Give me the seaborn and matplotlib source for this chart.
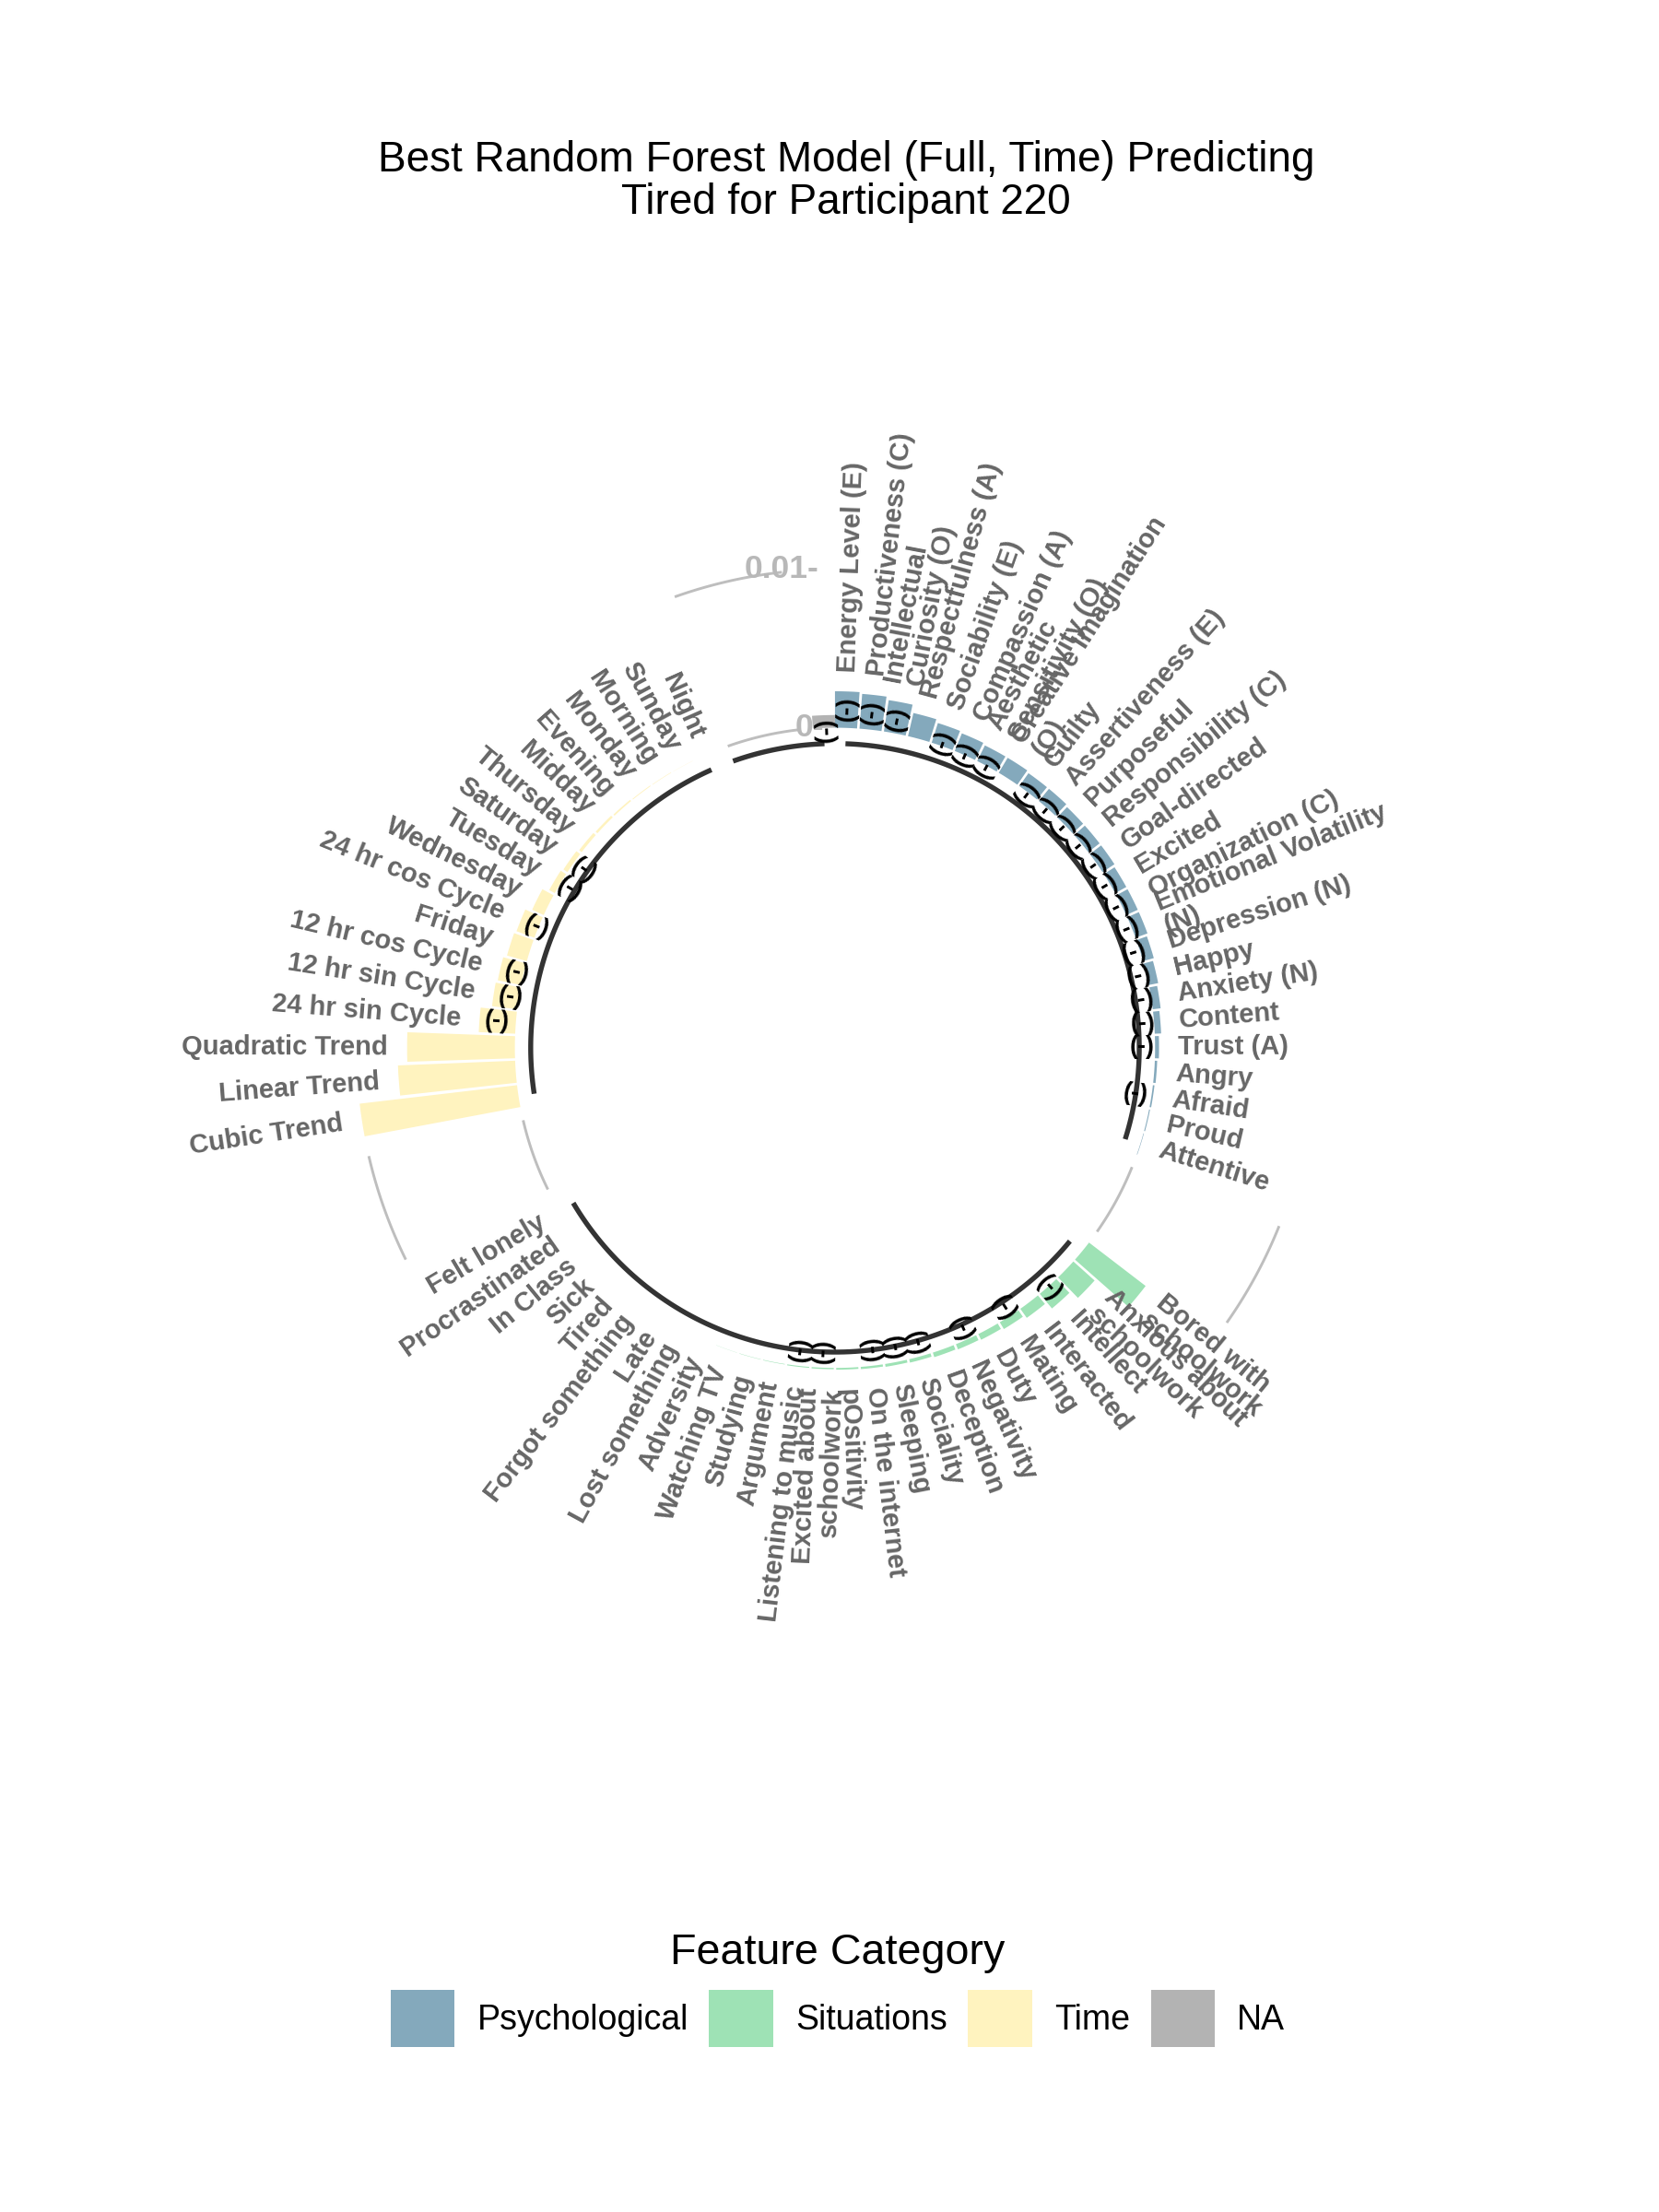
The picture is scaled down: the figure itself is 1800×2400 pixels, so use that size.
import textwrap
import numpy as np
import pandas as pd
import matplotlib
matplotlib.use("Agg")
import matplotlib.pyplot as plt
from matplotlib.patches import Patch
import seaborn as sns

# feature importances, by category (sorted as drawn)
psych_features = ["Energy Level (E)", "Productiveness (C)", "Intellectual Curiosity (O)",
                  "Respectfulness (A)", "Sociability (E)", "Compassion (A)",
                  "Aesthetic Sensitivity (O)", "Creative Imagination (O)", "Guilty",
                  "Assertiveness (E)", "Purposeful", "Responsibility (C)", "Goal-directed",
                  "Excited", "Organization (C)", "Emotional Volatility (N)", "Depression (N)",
                  "Happy", "Anxiety (N)", "Content", "Trust (A)", "Angry", "Afraid",
                  "Proud", "Attentive"]
psych_values = [0.0023, 0.0022, 0.0020, 0.0015, 0.0013, 0.0012, 0.0011, 0.0011, 0.0010,
                0.0010, 0.0009, 0.0009, 0.0009, 0.0008, 0.0008, 0.0008, 0.0007, 0.0006,
                0.0005, 0.0004, 0.00025, 0.00015, 0.0001, 0.00006, 0.00003]
psych_negative = [1, 1, 1, 0, 1, 1, 1, 0, 1, 1, 1, 1, 1, 1, 1, 1, 1, 1, 1, 1, 1, 0, 1, 0, 0]

situation_features = ["Bored with schoolwork", "Anxious about schoolwork", "Intellect",
                      "Interacted", "Mating", "Duty", "Negativity", "Deception", "Sociality",
                      "Sleeping", "On the internet", "pOsitivity", "Excited about schoolwork",
                      "Listening to music", "Argument", "Studying", "Watching TV", "Adversity",
                      "Lost something", "Late", "Forgot something", "Tired", "Sick",
                      "In Class", "Procrastinated", "Felt lonely"]
situation_values = [0.0045, 0.0018, 0.0012, 0.0007, 0.0005, 0.0004, 0.00035, 0.0003,
                    0.00022, 0.00018, 0.00014, 0.00011, 0.00008, 0.00006, 0.00003, 0.00002,
                    0.00001, 0, 0, 0, 0, 0, 0, 0, 0, 0]
situation_negative = [0, 0, 1, 0, 1, 0, 1, 0, 1, 1, 1, 0, 1, 1, 0, 0, 0, 0, 0, 0, 0, 0, 0, 0, 0, 0]

time_features = ["Cubic Trend", "Linear Trend", "Quadratic Trend", "24 hr sin Cycle",
                 "12 hr sin Cycle", "12 hr cos Cycle", "Friday", "24 hr cos Cycle",
                 "Wednesday", "Tuesday", "Saturday", "Thursday", "Midday", "Evening",
                 "Monday", "Morning", "Sunday", "Night"]
time_values = [0.0100, 0.0074, 0.0068, 0.0023, 0.0016, 0.0015, 0.0013, 0.0012, 0.0008,
               0.0004, 0.0003, 0.0002, 0.00015, 0.0001, 0.00005, 0.00003, 0.00001, 0]
time_negative = [0, 0, 0, 1, 1, 1, 0, 1, 0, 1, 1, 0, 0, 0, 0, 0, 0, 0]

na_features = [""]
na_values = [0.0008]
na_negative = [1]

categories = ["Psychological", "Situations", "Time", "NA"]
colors = sns.color_palette(["#84a9bc", "#9ee2b5", "#fff3bf", "#b3b3b3"])
palette = dict(zip(categories, colors))

# assemble data with empty bars between groups (circular barplot layout)
empty_bar = 4
frames = []
groups = [("Psychological", psych_features, psych_values, psych_negative),
          ("Situations", situation_features, situation_values, situation_negative),
          ("Time", time_features, time_values, time_negative),
          ("NA", na_features, na_values, na_negative)]
for name, feats, vals, neg in groups:
    frames.append(pd.DataFrame({"feature": feats, "value": vals, "negative": neg, "group": name}))
    if name != "NA":
        frames.append(pd.DataFrame({"feature": [None] * empty_bar, "value": [np.nan] * empty_bar,
                                    "negative": [0] * empty_bar, "group": name}))
data = pd.concat(frames, ignore_index=True)
data["id"] = np.arange(1, len(data) + 1)
n_bar = len(data)


def to_theta(x):
    return 2 * np.pi * (np.asarray(x, dtype=float) - 0.55) / (n_bar - 0.1)


base = data.groupby("group", sort=False)["id"].agg(["min", "max"])
base["end"] = base["max"] - empty_bar
grid = pd.DataFrame({"start": base["end"].shift(1) + 1, "end": base["min"] - 1}).iloc[1:]

sns.set_theme(style="white")
plt.rcParams["font.family"] = ["Liberation Sans", "DejaVu Sans"]

fig = plt.figure(figsize=(6, 8), dpi=300)
ax = fig.add_axes([0.1193, 0.2383, 0.768, 0.576], projection="polar")
ax.set_theta_zero_location("N")
ax.set_theta_direction(-1)
ax.set_ylim(-0.0202, 0.02)
ax.set_axis_off()

bars = data.dropna(subset=["value"])
ax.bar(to_theta(bars["id"]), bars["value"], width=0.9 * 2 * np.pi / (n_bar - 0.1),
       bottom=0, color=bars["group"].map(palette).tolist(), linewidth=0, align="center")

# grey reference arcs inside the gaps
for _, g in grid.iterrows():
    t = np.linspace(to_theta(g["start"]), to_theta(g["end"]), 60)
    for yv in (0, 0.01):
        ax.plot(t, np.full_like(t, yv), color="#bebebe", lw=0.7, solid_capstyle="butt")

# dark base arcs under each group
for name, b in base.iterrows():
    t = np.linspace(to_theta(b["min"]), to_theta(b["end"]), 100)
    ax.plot(t, np.full_like(t, -0.001), color="#333333", lw=1.3, solid_capstyle="butt")

# y scale labels
for yv, txt in [(0, "0-"), (0.01, "0.01-")]:
    ax.text(to_theta(n_bar), yv, txt, ha="right", va="center", color="#b8b8b8",
            fontsize=8.5, fontweight="bold")

# feature labels and negative markers
for _, row in bars.iterrows():
    th = float(to_theta(row["id"]))
    deg = np.degrees(th)
    if deg <= 180:
        rot, ha = 90 - deg, "left"
    else:
        rot, ha = 270 - deg, "right"
    if row["feature"]:
        ax.text(th, row["value"] + 0.0012, textwrap.fill(row["feature"], 20),
                rotation=rot, rotation_mode="anchor", ha=ha, va="center",
                multialignment=ha, fontsize=7, fontweight="bold", color="#666666",
                linespacing=0.95)
    if row["negative"]:
        ax.text(th, row["value"] - 0.0011, "(-)", rotation=rot, rotation_mode="anchor",
                ha="center", va="center", fontsize=6.5, fontweight="bold", color="black")

fig.text(0.51, 0.918, "Best Random Forest Model (Full, Time) Predicting\nTired for Participant 220",
         ha="center", va="center", fontsize=11.0, linespacing=1.05, color="black")

handles = [Patch(facecolor=palette[c], edgecolor="none") for c in categories]
leg = fig.legend(handles, categories, loc="center", bbox_to_anchor=(0.505, 0.1005), ncol=4,
                 frameon=False, title="Feature Category", fontsize=9, title_fontsize=11.2,
                 handlelength=1.85, handleheight=2.15, handletextpad=0.65, columnspacing=0.6,
                 labelcolor="black")
leg.get_title().set_color("black")

fig.savefig("out.png", dpi=300, facecolor="white")
